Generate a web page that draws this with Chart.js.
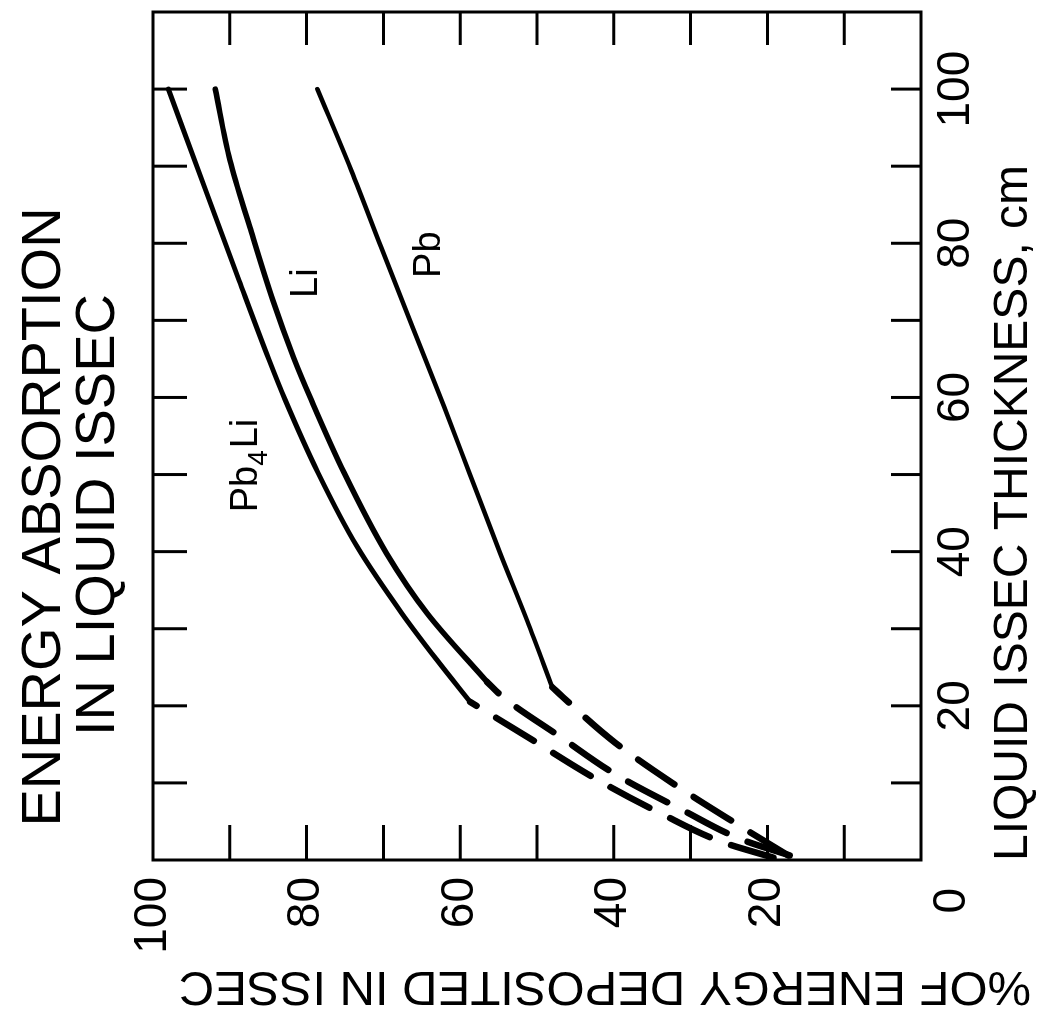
<!DOCTYPE html>
<html>
<head>
<meta charset="utf-8">
<script src="https://cdn.jsdelivr.net/npm/chart.js@4.4.1/dist/chart.umd.min.js"></script>
<style>
  html, body { margin: 0; padding: 0; background: #fff; overflow: hidden; width: 1048px; height: 1021px; }
  #wrap { position: absolute; left: 0; top: 0; width: 1021px; height: 1048px;
          transform-origin: 0 0; transform: translate(0, 1021px) rotate(-90deg); }
  canvas { display: block; }
</style>
</head>
<body>
<div id="wrap"><canvas id="c" width="1021" height="1048"></canvas></div>
<script>
// ---------- data (thickness in cm, % of energy deposited) ----------
const pb4liThickness = [0.3, 2.3, 6.0, 10.5, 16.0, 20.5, 25.9, 32.0, 40.6, 50.2, 59.7, 64.9, 75.2, 86.5, 100];
const pb4liPercent   = [19.2, 25.8, 33.8, 42.3, 51.3, 58.7, 63.0, 67.6, 73.4, 78.5, 82.8, 84.9, 88.8, 93.0, 98.0];
const pb4liSolidFrom = 20.5;

const liThickness = [0.6, 2.6, 6.5, 11.0, 16.0, 21.1, 23.1, 32.0, 39.8, 50.2, 59.7, 65.2, 72.6, 82.1, 90.8, 100];
const liPercent   = [17.1, 23.2, 31.1, 39.6, 47.0, 54.4, 56.5, 64.3, 69.6, 75.1, 79.4, 81.7, 84.4, 87.4, 90.0, 91.9];
const liSolidFrom = 23.1;

const pbThickness = [0.6, 4.8, 10.0, 15.2, 21.1, 22.4, 31.1, 39.8, 50.2, 58.8, 69.1, 79.5, 89.5, 100];
const pbPercent   = [17.3, 24.2, 32.4, 39.8, 46.6, 48.0, 51.3, 54.8, 58.8, 62.1, 66.2, 70.3, 74.2, 78.6];
const pbSolidFrom = 22.4;

const thicknessTickLabels = [20, 40, 60, 80, 100];
const percentTickLabels   = [20, 40, 60, 80, 100];
const cornerZeroLabel     = '0';

const titleLines  = ['ENERGY ABSORPTION', 'IN LIQUID ISSEC'];
const xAxisTitle  = 'LIQUID ISSEC THICKNESS, cm';
const yAxisTitle  = '%OF ENERGY DEPOSITED IN ISSEC';

// curve labels: text parts with anchor in data units
const curveLabels = [
  { parts: [['Pb', 0], ['4', 1], ['Li', 0]], t: 45.1, p: 86.5 },
  { parts: [['Li', 0]], t: 72.9, p: 78.6 },
  { parts: [['Pb', 0]], t: 75.5, p: 62.6 }
];

// ---------- build datasets ----------
function pts(ts, ps, keep) {
  const out = [];
  ts.forEach((t, i) => { if (keep(t)) out.push({ x: t, y: ps[i] }); });
  return out;
}
function seriesSets(ts, ps, solidFrom, solidWidth) {
  return [
    { data: pts(ts, ps, t => t <= solidFrom), borderDash: [44, 23], borderWidth: 6.5, borderCapStyle: 'round' },
    { data: pts(ts, ps, t => t >= solidFrom), borderWidth: solidWidth, borderCapStyle: 'round' }
  ];
}
const datasets = [
  ...seriesSets(pb4liThickness, pb4liPercent, pb4liSolidFrom, 5),
  ...seriesSets(liThickness, liPercent, liSolidFrom, 5.5),
  ...seriesSets(pbThickness, pbPercent, pbSolidFrom, 4.5)
].map(d => Object.assign({
  borderColor: '#000', backgroundColor: '#000', pointRadius: 0, fill: false,
  cubicInterpolationMode: 'monotone', borderJoinStyle: 'round'
}, d));

const FONT = '"Liberation Sans", Arial, sans-serif';

const inkPlugin = {
  id: 'ink',
  afterDraw(chart) {
    const { ctx, chartArea: a, scales: { x, y } } = chart;
    ctx.save();
    ctx.strokeStyle = '#000';
    ctx.fillStyle = '#000';
    ctx.lineWidth = 3;
    ctx.lineCap = 'square';
    ctx.strokeRect(a.left, a.top, a.right - a.left, a.bottom - a.top);
    const seg = (x1, y1, x2, y2) => { ctx.beginPath(); ctx.moveTo(x1, y1); ctx.lineTo(x2, y2); ctx.stroke(); };
    ctx.lineCap = 'butt';
    x.ticks.forEach(tk => {
      if (tk.value <= x.min || tk.value >= x.max) return;
      const px = x.getPixelForValue(tk.value);
      seg(px, a.top, px, a.top + 34);
      seg(px, a.bottom, px, a.bottom - 30);
    });
    y.ticks.forEach(tk => {
      if (tk.value <= y.min || tk.value >= y.max) return;
      const py = y.getPixelForValue(tk.value);
      seg(a.left, py, a.left + 35, py);
      seg(a.right, py, a.right - 33, py);
    });

    // corner zero
    ctx.font = '46px ' + FONT;
    ctx.textAlign = 'right';
    ctx.textBaseline = 'middle';
    ctx.fillText(cornerZeroLabel, a.left - 28, y.getPixelForValue(0) + 31);

    // chart title
    ctx.textAlign = 'center';
    ctx.textBaseline = 'alphabetic';
    ctx.font = '56px ' + FONT;
    ctx.fillText(titleLines[0], 504, 60);
    ctx.fillText(titleLines[1], 506, 114);

    // x-axis title
    ctx.font = '48px ' + FONT;
    ctx.fillText(xAxisTitle, 508, 1027);

    // y-axis title
    ctx.save();
    ctx.translate(49, 605);
    ctx.rotate(-Math.PI / 2);
    ctx.font = '49px ' + FONT;
    ctx.fillText(yAxisTitle, 0, 0);
    ctx.restore();

    // curve labels
    ctx.textAlign = 'left';
    curveLabels.forEach(lb => {
      let cx = x.getPixelForValue(lb.t);
      const base = y.getPixelForValue(lb.p);
      lb.parts.forEach(([txt, sub]) => {
        ctx.font = (sub ? '28px ' : '38px ') + FONT;
        ctx.fillText(txt, cx, base + (sub ? 10 : 0));
        cx += ctx.measureText(txt).width + (sub ? 2 : 0);
      });
    });
    ctx.restore();
  }
};

Chart.defaults.font.family = FONT;
Chart.defaults.color = '#000';

new Chart(document.getElementById('c'), {
  type: 'line',
  data: { datasets },
  options: {
    responsive: false,
    devicePixelRatio: 1,
    animation: false,
    layout: { padding: { top: 153, right: 12, left: 0, bottom: 0 } },
    plugins: { legend: { display: false }, tooltip: { enabled: false }, title: { display: false } },
    scales: {
      x: {
        type: 'linear', min: 0, max: 110,
        grid: { display: false, drawTicks: false },
        border: { display: false },
        ticks: {
          stepSize: 10, autoSkip: false, maxRotation: 0, padding: 8,
          font: { size: 46 }, color: '#000',
          callback: v => thicknessTickLabels.includes(v) ? String(v) : ''
        },
        afterFit(s) { s.height = 127; }
      },
      y: {
        type: 'linear', min: 0, max: 100,
        grid: { display: false, drawTicks: false },
        border: { display: false },
        ticks: {
          stepSize: 10, autoSkip: false, padding: 17,
          font: { size: 46 }, color: '#000',
          callback: v => percentTickLabels.includes(v) ? String(v) : ''
        },
        afterFit(s) { s.width = 161; }
      }
    }
  },
  plugins: [inkPlugin]
});
</script>
</body>
</html>
